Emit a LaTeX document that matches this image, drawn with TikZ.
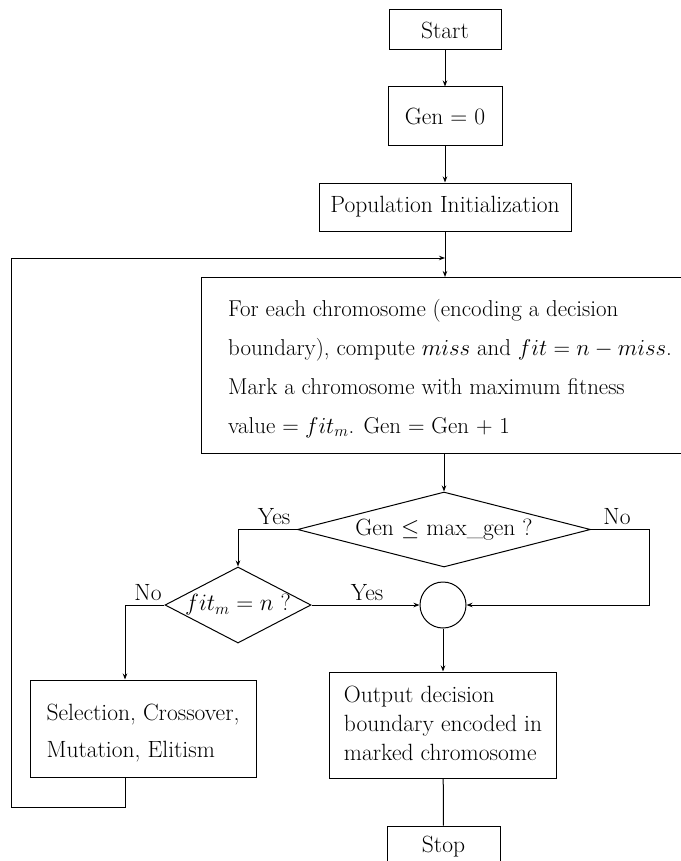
\RequirePackage{fix-cm}
\documentclass[tikz,border=0pt]{standalone}
\usetikzlibrary{shapes.geometric,arrows.meta}
\tikzset{
  txt/.style={font=\fontsize{23.5}{28}\selectfont},
  box/.style={draw, rectangle, line width=1pt, inner sep=0pt, txt},
  dec/.style={draw, diamond, line width=1pt, inner sep=0pt, txt},
  lbl/.style={inner sep=1pt, txt},
  ln/.style={line width=1pt},
  arr/.style={line width=1pt, -{Stealth[length=6pt,width=4.5pt]}},
}
\begin{document}
\begin{tikzpicture}[x=1pt,y=-1pt]
\useasboundingbox (0,0) rectangle (680,861);
\node[box, minimum width=112pt, minimum height=40pt] (start) at (445,30) {Start};
\node[box, minimum width=114pt, minimum height=59pt] (gen0) at (445,116.5) {Gen $=$ 0};
\node[box, minimum width=252pt, minimum height=48pt] (pop) at (445,207) {Population Initialization};
\coordinate (J) at (445,258);
\node[box, anchor=north west, minimum width=520pt, minimum height=176pt] (proc) at (201,277) {};
\node[txt, align=left, anchor=west, inner sep=0pt,
      font=\fontsize{22.9}{39}\selectfont] (proct) at ([xshift=27pt,yshift=-3pt]proc.west)
  {For each chromosome (encoding a decision\\
   boundary), compute $miss$ and $fit = n - miss$.\\
   Mark a chromosome with maximum fitness\\
   value $= fit_m$. Gen $=$ Gen $+$ 1};
\node[dec, aspect=3.9, minimum width=293pt, minimum height=75pt] (dec1) at (444,529.5) {Gen $\leq$ max\_gen ?};
\node[dec, aspect=1.92, minimum width=146pt, minimum height=76pt] (dec2) at (238,605) {$fit_m = n$ ?};
\node[draw, circle, line width=1pt, minimum size=46pt, inner sep=0pt] (join) at (443,605) {};
\node[box, minimum width=226pt, minimum height=97pt] (sel) at (143,728.5) {};
\node[txt, align=left, inner sep=0pt, font=\fontsize{23.5}{37}\selectfont] (selt)
  at ([yshift=-5pt]sel.center) {Selection, Crossover,\\ Mutation, Elitism};
\node[box, minimum width=227pt, minimum height=106pt] (out) at (443,725) {};
\node[txt, align=left, inner sep=0pt, font=\fontsize{23.5}{29}\selectfont] (outt)
  at ([yshift=2pt]out.center) {Output decision\\ boundary encoded in\\ marked chromosome};
\node[box, minimum width=113pt, minimum height=42pt] (stop) at (443.5,847) {Stop};
\node[lbl] (y1) at (274,517) {Yes};
\node[lbl] (n1) at (617,517) {No};
\node[lbl] (n2) at (148,593) {No};
\node[lbl] (y2) at (367,593) {Yes};
\coordinate (colL) at (125,0);
\coordinate (colR) at (649,0);
\coordinate (lb) at (11,807);
\draw[arr] (start) -- (gen0);
\draw[arr] (gen0) -- (pop);
\draw[ln] (pop.south) -- (J);
\draw[arr] (sel.south -| colL) |- (lb) |- (J);
\draw[arr] (J) -- (J |- proc.north);
\draw[arr] (proc.south -| dec1.north) -- (dec1.north);
\draw[arr] (dec1.west) -| (dec2.north);
\draw[arr] (dec1.east) -| (colR |- join.east) -- (join.east);
\draw[arr] (dec2.west) -| (sel.north -| colL);
\draw[arr] (dec2.east) -- (join.west);
\draw[arr] (join) -- (out);
\draw[ln] (out) -- (stop);
\end{tikzpicture}
\end{document}
